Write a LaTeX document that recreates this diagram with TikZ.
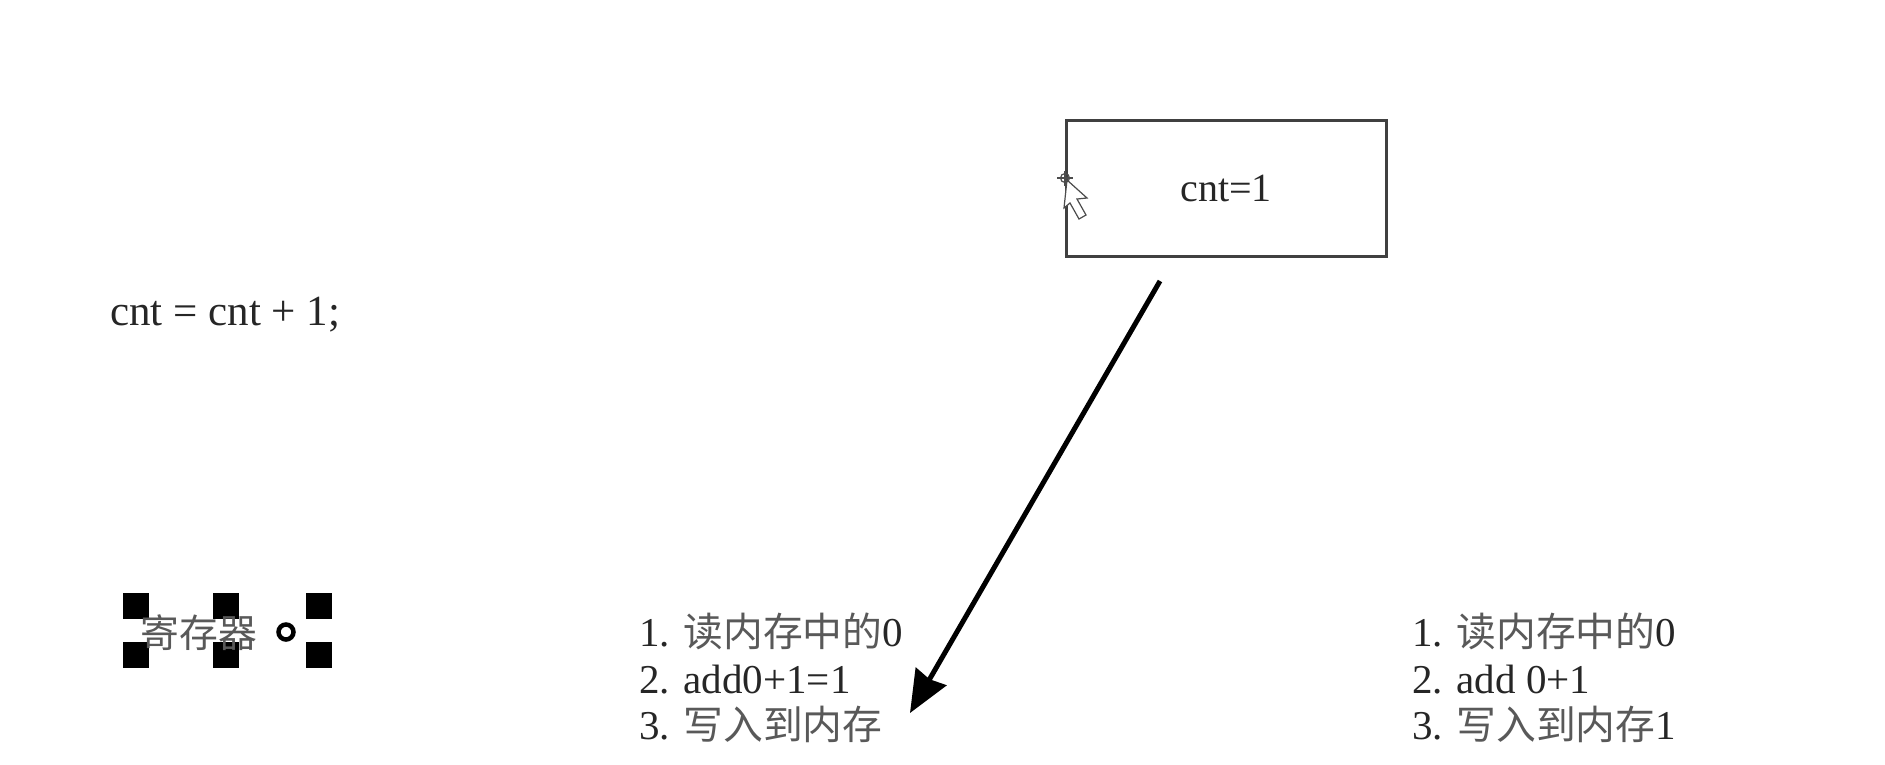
\documentclass[tikz,border=0pt]{standalone}
\usepackage{fontspec}
\setmainfont{Liberation Serif}
\newfontfamily\cjk{Noto Sans CJK SC}[Scale=0.97]
\usetikzlibrary{arrows.meta}

\begin{document}
\begin{tikzpicture}[x=1pt,y=-1pt]

% Define text, box and handle style
\tikzstyle{word} =[inner sep=0pt, font=\fontsize{40}{46.5}\selectfont, text=black!85]
\tikzstyle{steps} =[inner sep=0pt, font=\fontsize{41}{46.5}\selectfont, text=black!85, align=left, anchor=north west]
\tikzstyle{membox} =[draw=black!75, line width=3pt, minimum width=320pt, minimum height=136pt, inner sep=0pt]
\tikzstyle{handle} =[fill=black, inner sep=0pt, minimum width=26pt, minimum height=26pt]
\newcommand{\zh}[1]{{\cjk\color{black!65}#1}}

\useasboundingbox (0,0) rectangle (1885,764);

\node[membox, word, text height=26pt, text depth=0pt] (mem) at (1226,188) {cnt=1};
\node[word, anchor=base west, font=\fontsize{43}{46.5}\selectfont] (code) at (110,325) {cnt = cnt + 1;};

% selected text box
\foreach \a in {136,226,319}{
  \foreach \b in {606,655}{
    \node[handle] (h\a\b) at (\a,\b) {};
  }
}
\node[word, anchor=center] (reg) at (199,633) {\zh{寄存器}};
\node[circle, draw=black, line width=4.5pt, minimum size=15pt, inner sep=0pt] (rot) at (286,632) {};

\node[steps] (first) at (639,613) {1. \zh{读内存中的}0\\2. add0+1=1\\3. \zh{写入到内存}};
\node[steps] (second) at (1412,613) {1. \zh{读内存中的}0\\2. add 0+1\\3. \zh{写入到内存}1};

\coordinate (from) at (1160,281);
\coordinate (to) at (910,713);
\draw[line width=5pt, -{Stealth[length=42pt, width=35pt, inset=3pt]}] (from) -- (to);

% mouse cursor on the box edge
\draw[black!70, line width=1.2pt, fill=white] (1067,180) -- (1087,198) -- (1077,199) -- (1086,215) -- (1079,219) -- (1070,203) -- (1064,208) -- cycle;
\draw[black!70, line width=1.5pt] (1057,178) -- (1073,178) (1065,171) -- (1065,186);
\draw[black!70, line width=1.2pt] (1065,178) circle (4.5);

\end{tikzpicture}
\end{document}
